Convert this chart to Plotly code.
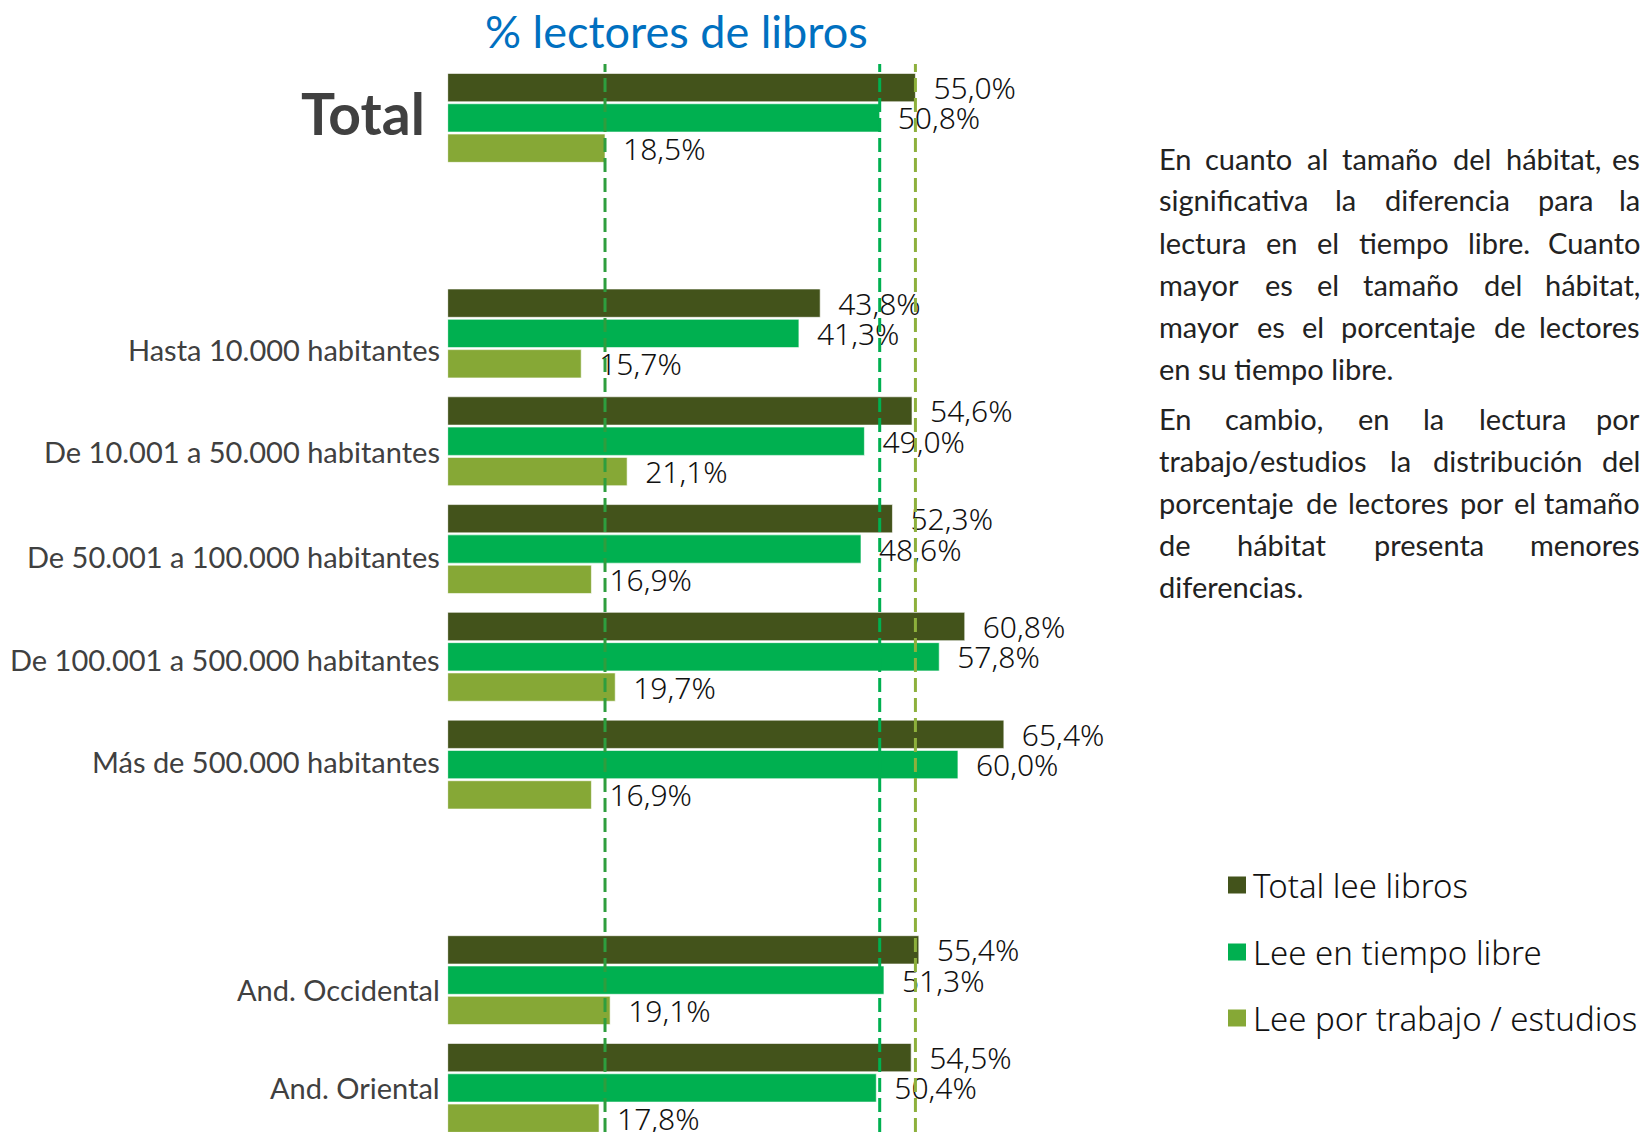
import plotly.graph_objects as go

# ---------------- data ----------------
categories = ["Total", "Hasta 10.000 habitantes", "De 10.001 a 50.000 habitantes",
              "De 50.001 a 100.000 habitantes", "De 100.001 a 500.000 habitantes",
              "Más de 500.000 habitantes", "And. Occidental", "And. Oriental"]
total_lee = [55.0, 43.8, 54.6, 52.3, 60.8, 65.4, 55.4, 54.5]
tiempo_libre = [50.8, 41.3, 49.0, 48.6, 57.8, 60.0, 51.3, 50.4]
trabajo = [18.5, 15.7, 21.1, 16.9, 19.7, 16.9, 19.1, 17.8]
series_names = ["Total lee libros", "Lee en tiempo libre", "Lee por trabajo / estudios"]
title_text = "% lectores de libros"

paragraph_lines = [
    ("En cuanto al tamaño del hábitat, es", True),
    ("significativa la diferencia para la", True),
    ("lectura en el tiempo libre. Cuanto", True),
    ("mayor es el tamaño del hábitat,", True),
    ("mayor es el porcentaje de lectores", True),
    ("en su tiempo libre.", False),
    ("En cambio, en la lectura por", True),
    ("trabajo/estudios la distribución del", True),
    ("porcentaje de lectores por el tamaño", True),
    ("de hábitat presenta menores", True),
    ("diferencias.", False),
]

# ---------------- styles / layout ----------------
W, H = 1652, 1132
OFF = 8  # page body margin: page pixel p is figure pixel p - OFF
BAR_COLORS = ["#43531B", "#00B050", "#86A836"]
LINE_COLORS = ["#8DB03C", "#00B050", "#2E9E3E"]
PLOT_L, PLOT_R, PLOT_T, PLOT_B = 447.7, 1140, 64, 1132   # page pixels
PX_PER_PCT = 8.504
axis_order = [categories[0], " "] + categories[1:6] + ["  "] + categories[6:]
SLOT_PX = 107.78
FIRST_CENTER = 117.9
LABEL_DY = [5.4, -16.5, -9.8, -7.0, -2.7, 3.1, -8.9, 0.6]
NUM_FONT = dict(family="Noto Sans", size=30, color="#111111", weight=300)


def px(xp):
    return (xp - OFF) / W


def py(yp):
    return 1 - (yp - OFF) / H


def fmt(v):
    return ("%.1f" % v).replace(".", ",") + "%"


fig = go.Figure()
for name, vals, color in zip(series_names, [total_lee, tiempo_libre, trabajo], BAR_COLORS):
    fig.add_trace(go.Bar(
        y=categories, x=vals, orientation="h", name=name, showlegend=False,
        marker=dict(color=color, line=dict(color="rgba(255,255,255,0.6)", width=1)),
        text=["\u2002" + fmt(v) for v in vals], textposition="outside",
        textfont=NUM_FONT, constraintext="none", cliponaxis=False, hoverinfo="skip"))

# dashed reference lines at the "Total" values of each series
for vals, lc in zip([total_lee, tiempo_libre, trabajo], LINE_COLORS):
    fig.add_shape(type="line", xref="x", yref="y domain", x0=vals[0], x1=vals[0],
                  y0=0, y1=1, layer="above",
                  line=dict(color=lc, width=3, dash="14px,6px"))

annotations = []
# category labels
for cat, dy in zip(categories, LABEL_DY):
    if cat == "Total":
        font = dict(family="Lato", size=57, color="#404040", weight="bold")
        xs = -21
    else:
        font = dict(family="Lato", size=29, color="#404040")
        xs = -6
    annotations.append(dict(x=0, y=cat, xref="x", yref="y", text=cat, showarrow=False,
                            xanchor="right", yanchor="middle", xshift=xs, yshift=dy,
                            font=font))
# title
annotations.append(dict(x=px(676.7), y=py(31), xref="paper", yref="paper",
                        text=title_text, showarrow=False, xanchor="center", yanchor="middle",
                        font=dict(family="Lato", size=45, color="#0070C0")))

# legend (swatch + text)
LEG_Y = [885, 952, 1018]
for name, color, ly in zip(series_names, BAR_COLORS, LEG_Y):
    fig.add_shape(type="rect", xref="paper", yref="paper", x0=px(1228), x1=px(1246),
                  y0=py(ly - 8.5), y1=py(ly + 8.5), fillcolor=color, line=dict(width=0))
    annotations.append(dict(x=px(1251), y=py(ly), xref="paper", yref="paper", text=name,
                            showarrow=False, xanchor="left", yanchor="middle",
                            font=dict(family="Noto Sans", size=33, color="#111111", weight=300)))

# justified paragraph (word by word)
CW = {'a': .51, 'b': .57, 'c': .46, 'd': .57, 'e': .53, 'f': .33, 'g': .51, 'h': .56,
      'i': .24, 'j': .24, 'k': .50, 'l': .24, 'm': .85, 'n': .56, 'o': .57, 'p': .57,
      'q': .57, 'r': .37, 's': .43, 't': .36, 'u': .56, 'v': .51, 'w': .78, 'x': .50,
      'y': .51, 'z': .46, 'á': .51, 'é': .53, 'í': .24, 'ó': .57, 'ú': .56, 'ñ': .56,
      'C': .66, 'E': .57, ',': .22, '.': .22, '/': .38}
P_SIZE = 29
P_L, P_R = 1157, 1642
LINE_Y = [158, 200, 242, 284.4, 326.6, 368.8, 418.3, 460.4, 502.6, 544.7, 586.8]
pfont = dict(family="Lato", size=P_SIZE, color="#222222")


def est_w(word):
    return sum(CW.get(ch, 0.55) for ch in word) * P_SIZE


for (line, just), ly in zip(paragraph_lines, LINE_Y):
    yp = py(ly)
    if not just:
        annotations.append(dict(x=px(P_L), y=yp, xref="paper", yref="paper", text=line,
                                showarrow=False, xanchor="left", yanchor="middle", font=pfont))
        continue
    words = line.split(" ")
    widths = [est_w(w) for w in words]
    gap = (P_R - P_L - sum(widths)) / (len(words) - 1)
    xcur = P_L
    for i, (wd, ww) in enumerate(zip(words, widths)):
        if i == len(words) - 1:
            annotations.append(dict(x=px(P_R), y=yp, xref="paper", yref="paper", text=wd,
                                    showarrow=False, xanchor="right", yanchor="middle", font=pfont))
        else:
            annotations.append(dict(x=px(xcur), y=yp, xref="paper", yref="paper", text=wd,
                                    showarrow=False, xanchor="left", yanchor="middle", font=pfont))
        xcur += ww + gap

xmax = (PLOT_R - PLOT_L) / PX_PER_PCT
y_top_idx = (PLOT_T - FIRST_CENTER) / SLOT_PX
y_bot_idx = (PLOT_B - FIRST_CENTER) / SLOT_PX

fig.update_layout(
    width=W, height=H, autosize=False,
    margin=dict(l=0, r=0, t=0, b=0, pad=0),
    paper_bgcolor="white", plot_bgcolor="white",
    barmode="group", bargap=0.1566, bargroupgap=0.066,
    xaxis=dict(domain=[px(PLOT_L), px(PLOT_R)], range=[0, xmax], visible=False, fixedrange=True),
    yaxis=dict(domain=[py(PLOT_B), py(PLOT_T)], type="category", categoryorder="array",
               categoryarray=axis_order, range=[y_bot_idx, y_top_idx],
               showticklabels=False, showgrid=False, zeroline=False, showline=False,
               ticks="", fixedrange=True),
    annotations=annotations,
    showlegend=False,
)

fig.write_html("out.html")
